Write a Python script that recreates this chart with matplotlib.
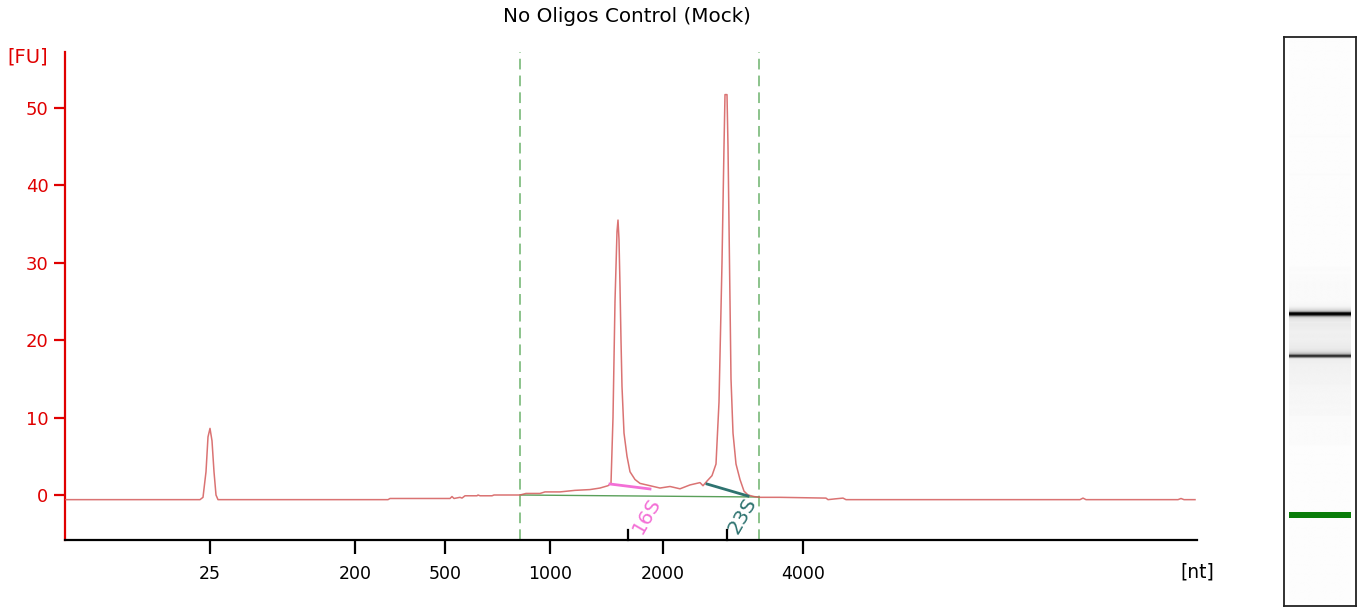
import numpy as np
import matplotlib
matplotlib.use("Agg")
import matplotlib.pyplot as plt

# ---------------- data ----------------
title = "No Oligos Control (Mock)"
# migration time [s] and fluorescence [FU]
time_s = [19.0, 25.75, 25.9, 26.05, 26.15, 26.25, 26.35, 26.45, 26.55, 26.65,
          35.15, 35.25, 38.25, 38.35, 38.45, 38.75, 38.85, 39.0, 39.6, 39.65,
          39.75, 40.35, 40.45, 41.75, 42.05, 42.75, 43.0, 43.75, 44.5, 45.25,
          45.75, 46.15, 46.3, 46.4, 46.5, 46.6, 46.65, 46.7, 46.75, 46.8,
          46.85, 46.95, 47.1, 47.25, 47.5, 47.75, 48.25, 48.75, 49.25, 49.75,
          50.25, 50.75, 50.9, 51.1, 51.35, 51.55, 51.7, 51.85, 51.95, 52.0,
          52.1, 52.15, 52.25, 52.3, 52.4, 52.55, 52.75, 52.95, 53.15, 53.45,
          53.75, 54.75, 57.05, 57.15, 57.5, 57.9, 58.05, 69.75, 69.9, 70.05,
          74.65, 74.8, 74.95, 75.5]
fluor_fu = [-0.6, -0.6, -0.3, 3.0, 7.5, 8.6, 7.0, 3.0, 0.0, -0.6,
            -0.6, -0.45, -0.45, -0.2, -0.45, -0.3, -0.4, -0.1, -0.1, 0.0,
            -0.1, -0.1, 0.0, 0.0, 0.2, 0.2, 0.4, 0.4, 0.6, 0.7,
            0.9, 1.2, 1.5, 10.0, 25.0, 34.0, 35.5, 33.0, 27.0, 20.0,
            14.0, 8.0, 5.0, 3.0, 2.0, 1.5, 1.2, 0.9, 1.1, 0.8,
            1.3, 1.6, 1.2, 1.8, 2.5, 4.0, 12.0, 30.0, 45.0, 51.7,
            51.7, 45.0, 25.0, 15.0, 8.0, 4.0, 2.0, 0.5, 0.0, -0.2,
            -0.3, -0.3, -0.4, -0.6, -0.5, -0.4, -0.6, -0.6, -0.4, -0.6,
            -0.6, -0.45, -0.6, -0.6]

tick_times = [26.25, 33.5, 38.0, 43.25, 48.9, 55.9]
tick_labels = ["25", "200", "500", "1000", "2000", "4000"]

region_bounds = [41.75, 53.7]          # dashed green region lines
region_baseline_fu = [0.0, -0.26]      # baseline at region bounds

peak_names = ["16S", "23S"]
peak_times = [47.15, 52.1]
peak_colors = ["#f36fd6", "#2e7370"]
peak_base_t = [[46.25, 48.25], [51.1, 53.15]]
peak_base_fu = [[1.42, 0.78], [1.42, -0.13]]
peak_label_t = [48.1, 52.85]
peak_label_fu = [-2.6, -2.6]

marker_time = 26.25
marker_color = "#0a7d0a"

# ---------------- figure ----------------
W, H = 1361, 609
fig = plt.figure(figsize=(W / 100, H / 100), dpi=100)
plt.rcParams['font.family'] = ['DejaVu Sans']

ax = fig.add_axes([65 / W, 1 - 540 / H, (1197 - 65) / W, (540 - 52) / H])
ax.set_xlim(19.0, 75.6)
ax.set_ylim(-5.81, 57.2)

for s in ["top", "right"]:
    ax.spines[s].set_visible(False)
ax.spines["left"].set_color("#e00000")
ax.spines["left"].set_linewidth(1.6)
ax.spines["bottom"].set_color("black")
ax.spines["bottom"].set_linewidth(1.6)

ax.set_yticks([0, 10, 20, 30, 40, 50])
ax.tick_params(axis="y", colors="#e00000", labelcolor="#e00000", length=8,
               width=1.6, labelsize=13, pad=4)
ax.set_xticks(tick_times)
ax.set_xticklabels(tick_labels)
ax.tick_params(axis="x", colors="black", length=10, width=1.6, labelsize=12.5, pad=8)

# region lines
for t in region_bounds:
    ax.axvline(t, color="#6cb36c", lw=1.1, ls=(0, (7, 4)), zorder=1)
ax.plot(region_bounds, region_baseline_fu, color="#5aa05a", lw=1.0, zorder=2)

# trace
ax.plot(time_s, fluor_fu, color="#d45a5a", lw=1.1, alpha=0.85, zorder=3)

# peak annotations
for name, t, c, bt, bf, lt, lf in zip(peak_names, peak_times, peak_colors,
                                      peak_base_t, peak_base_fu,
                                      peak_label_t, peak_label_fu):
    ax.plot(bt, bf, color=c, lw=2.0, zorder=4)
    ax.text(lt, lf, name, color=c, fontsize=14.5, rotation=60,
            ha="center", va="center", zorder=5)
    ax.plot([t, t], [-5.81, -4.5], color="black", lw=1.6, clip_on=False, zorder=5)

fig.text(28 / W, 1 - 57 / H, "[FU]", color="#e00000", fontsize=14,
         ha="center", va="center")
fig.text(1197 / W, 1 - 572 / H, "[nt]", color="black", fontsize=13.5,
         ha="center", va="center")
fig.text(627 / W, 1 - 17 / H, title, color="black", fontsize=14.3,
         ha="center", va="center")

# ---------------- gel lane ----------------
gax = fig.add_axes([1284 / W, 1 - 606 / H, (1356 - 1284) / W, (606 - 37) / H])
g_lo, g_hi = 14.6, 87.5
grid_t = np.linspace(g_lo, g_hi, 1200)
prof = np.interp(grid_t, time_s, fluor_fu, left=-0.6, right=-0.6)
prof = np.where(grid_t < 30, -0.6, prof)
gray = 1 - np.clip((prof + 0.6) / 42.0, 0, 1) ** 0.9
gray = np.clip(gray - 0.01, 0, 1)
img = np.repeat(gray[:, None], 2, axis=1)
gax.imshow(img, cmap="gray", vmin=0, vmax=1, aspect="auto",
           extent=[0.07, 0.93, g_lo, g_hi], origin="lower",
           interpolation="bilinear")
gax.axhspan(marker_time - 0.38, marker_time + 0.38, xmin=0.07, xmax=0.93,
            color=marker_color, lw=0)
gax.set_xlim(0, 1)
gax.set_ylim(g_lo, g_hi)
gax.set_xticks([])
gax.set_yticks([])
for s in gax.spines.values():
    s.set_color("#222222")
    s.set_linewidth(1.3)

fig.savefig("out.png", dpi=100, facecolor="white")
